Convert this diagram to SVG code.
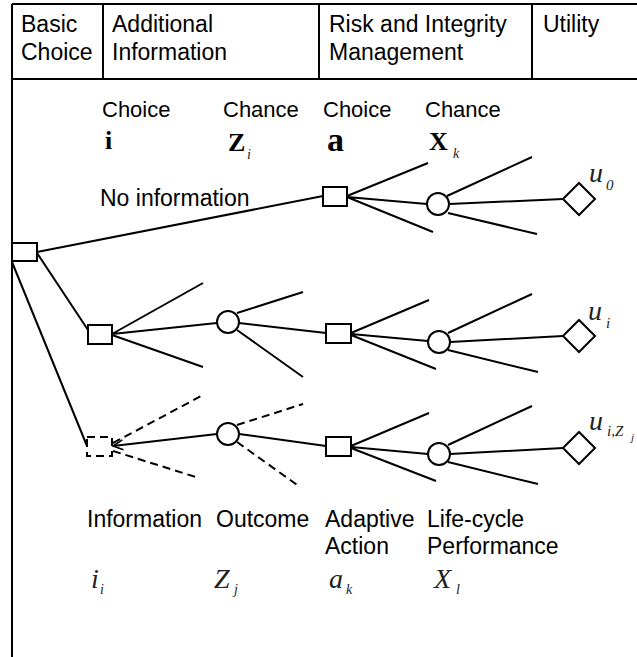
<svg xmlns="http://www.w3.org/2000/svg" width="637" height="657" viewBox="0 0 637 657">
<style>
.ln{stroke:#000;stroke-width:2;fill:none}
.dsh{stroke-dasharray:8 5}
.nd{stroke:#000;stroke-width:2;fill:#fff}
.sq{stroke:#000;stroke-width:2;fill:#fff}
.t{font-family:"Liberation Sans",Arial,sans-serif;font-size:22px;fill:#000}
.h{font-family:"Liberation Sans",Arial,sans-serif;font-size:23px;fill:#000}
.b{font-family:"Liberation Serif","Times New Roman",serif;font-weight:bold;fill:#000}
.m{font-family:"Liberation Serif","Times New Roman",serif;font-style:italic;fill:#222}
</style>
<defs>
<marker id="arr" markerWidth="12" markerHeight="12" refX="11" refY="6" orient="auto" markerUnits="userSpaceOnUse">
<path d="M1,1 L11,6 L1,11" fill="none" stroke="#000" stroke-width="1.6"/>
</marker>
</defs>
<g id="frame" class="ln">
<path d="M12,4 H637 M12,4 V657 M12,79 H637 M103,4 V79 M319,4 V79 M532,4 V79"/>
</g>
<g id="header" class="h">
<text x="21" y="32">Basic</text><text x="21" y="60">Choice</text>
<text x="112" y="32">Additional</text><text x="112" y="60">Information</text>
<text x="329" y="32">Risk and Integrity</text><text x="329" y="60">Management</text>
<text x="543" y="32">Utility</text>
</g>
<g id="connectors" class="ln">
<path d="M37,252 L323,196"/>
<path d="M37,253 L88,330"/>
<path d="M12,262 L87,446"/>
<path d="M347,196 L428,163 M347,197 L427,204 M347,197 L433,232"/>
<path d="M449,204 L563,199 M447,196 L532,157 M448,213 L537,234"/>
<path d="M112,334 L203,283 M112,334 L217,323 M112,335 L203,367"/>
<path d="M237,313 L303,292 M239,323 L326,333 M237,330 L303,377"/>
<path d="M351,333 L429,300 M351,334 L428,341 M351,335 L436,369"/>
<path d="M448,333 L532,294 M450,342 L563,336 M448,350 L538,372"/>
<path class="dsh" d="M113,443 L203,395 M113,451 L199,478 M237,425 L303,404 M237,442 L300,487"/>
<path d="M217,434 L113,446" marker-end="url(#arr)"/>
<path d="M239,434 L326,446"/>
<path d="M351,446 L429,413 M351,447 L428,454 M351,448 L436,481"/>
<path d="M448,445 L532,406 M450,454 L563,448 M448,462 L538,484"/>
</g>
<g id="root"><rect class="sq" x="12" y="243" width="25" height="18"/></g>
<g id="choice-top"><rect class="sq" x="323" y="187" width="24" height="19"/></g>
<g id="chance-top"><circle class="nd" cx="438" cy="204" r="11"/></g>
<g id="utility-0"><path class="nd" d="M563,199 L579,183 L595,199 L579,215 Z"/></g>
<g id="info-choice"><rect class="sq" x="88" y="325" width="24" height="19"/></g>
<g id="outcome-mid"><circle class="nd" cx="228" cy="322" r="11"/></g>
<g id="choice-mid"><rect class="sq" x="326" y="324" width="25" height="19"/></g>
<g id="chance-mid"><circle class="nd" cx="439" cy="342" r="11"/></g>
<g id="utility-i"><path class="nd" d="M563,336 L579,320 L595,336 L579,352 Z"/></g>
<g id="info-dashed"><rect class="ln dsh" x="87" y="437" width="25" height="19" stroke-dasharray="7 5"/></g>
<g id="outcome-bot"><circle class="nd" cx="228" cy="434" r="11"/></g>
<g id="choice-bot"><rect class="sq" x="326" y="437" width="25" height="19"/></g>
<g id="chance-bot"><circle class="nd" cx="439" cy="454" r="11"/></g>
<g id="utility-iz"><path class="nd" d="M563,448 L579,432 L595,448 L579,464 Z"/></g>
<g id="labels">
<text class="t" x="102" y="117">Choice</text>
<text class="t" x="223" y="117">Chance</text>
<text class="t" x="323" y="117">Choice</text>
<text class="t" x="425" y="117">Chance</text>
<text class="b" x="105" y="149" font-size="26">i</text>
<text class="b" x="228" y="151" font-size="26">Z</text><text class="m" x="247" y="159" font-size="14">i</text>
<text class="b" x="327" y="151" font-size="34">a</text>
<text class="b" x="429" y="150" font-size="26">X</text><text class="m" x="453" y="158" font-size="14">k</text>
<text class="h" x="100" y="206">No information</text>
<text class="m" x="589" y="182" font-size="28">u</text><text class="m" x="606" y="190" font-size="15" font-style="normal">0</text>
<text class="m" x="588" y="320" font-size="28">u</text><text class="m" x="606" y="328" font-size="15">i</text>
<text class="m" x="589" y="430" font-size="28">u</text><text class="m" x="607" y="436" font-size="15">i,Z</text><text class="m" x="631" y="441" font-size="11">j</text>
<text class="h" x="87" y="527">Information</text>
<text class="h" x="216" y="527">Outcome</text>
<text class="h" x="325" y="527">Adaptive</text>
<text class="h" x="325" y="554">Action</text>
<text class="h" x="427" y="527">Life-cycle</text>
<text class="h" x="427" y="554">Performance</text>
<text class="m" x="91" y="588" font-size="28">i</text><text class="m" x="100" y="594" font-size="14">i</text>
<text class="m" x="214" y="588" font-size="28">Z</text><text class="m" x="234" y="594" font-size="14">j</text>
<text class="m" x="329" y="588" font-size="28">a</text><text class="m" x="346" y="594" font-size="14">k</text>
<text class="m" x="434" y="588" font-size="28">X</text><text class="m" x="456" y="594" font-size="14">l</text>
</g>
</svg>
